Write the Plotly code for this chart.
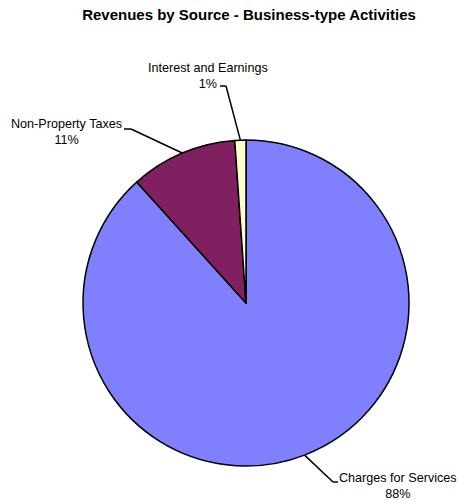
import math
import plotly.graph_objects as go

categories = ["Charges for Services", "Non-Property Taxes", "Interest and Earnings"]
values = [88.3, 10.6, 1.1]
pct_labels = ["88%", "11%", "1%"]
colors = ["#8080FF", "#802060", "#FFFFCC"]

W, H = 458, 500
cx, cy, R = 246, 303, 163  # pie placement in pixels

def px(x):
    return x / W

def py(y):
    return 1 - y / H

fig = go.Figure(go.Pie(
    labels=categories, values=values, sort=False, direction="clockwise",
    rotation=0, textinfo="none", hoverinfo="label+percent",
    marker=dict(colors=colors, line=dict(color="black", width=1.5)),
    domain=dict(x=[px(cx - R), px(cx + R)], y=[py(cy + R), py(cy - R)]),
    showlegend=False,
))

# label placements (text centre, elbow point, elbow end) in pixels
label_pos = [
    dict(tx=398, ty=486, ex=333, ey=482, hx=338),
    dict(tx=66, ty=132, ex=131, ey=129, hx=124),
    dict(tx=208, ty=76, ex=226, ey=86, hx=220),
]

total = sum(values)
cum = 0.0
shapes = []
annotations = []
for cat, v, p, lp in zip(categories, values, pct_labels, label_pos):
    mid = (cum + v / 2) / total * 2 * math.pi
    cum += v
    edge_x = cx + R * math.sin(mid)
    edge_y = cy - R * math.cos(mid)
    shapes.append(dict(type="line", xref="paper", yref="paper",
                       x0=px(edge_x), y0=py(edge_y), x1=px(lp["ex"]), y1=py(lp["ey"]),
                       line=dict(color="black", width=1.5)))
    shapes.append(dict(type="line", xref="paper", yref="paper",
                       x0=px(lp["ex"]), y0=py(lp["ey"]), x1=px(lp["hx"]), y1=py(lp["ey"]),
                       line=dict(color="black", width=1.5)))
    annotations.append(dict(xref="paper", yref="paper", x=px(lp["tx"]), y=py(lp["ty"]),
                            text=f"{cat}<br>{p}", showarrow=False,
                            xanchor="center", yanchor="middle", align="center",
                            font=dict(family="Liberation Sans, Arial", size=12.6, color="black")))

fig.update_layout(
    width=W, height=H, margin=dict(l=0, r=0, t=0, b=0),
    paper_bgcolor="white", plot_bgcolor="white",
    title=dict(text="<b>Revenues by Source - Business-type Activities</b>",
               x=px(249), xanchor="center", y=py(15), yanchor="middle",
               font=dict(family="Liberation Sans, Arial", size=15, color="black")),
    shapes=shapes, annotations=annotations,
)

fig.write_html("out.html")
